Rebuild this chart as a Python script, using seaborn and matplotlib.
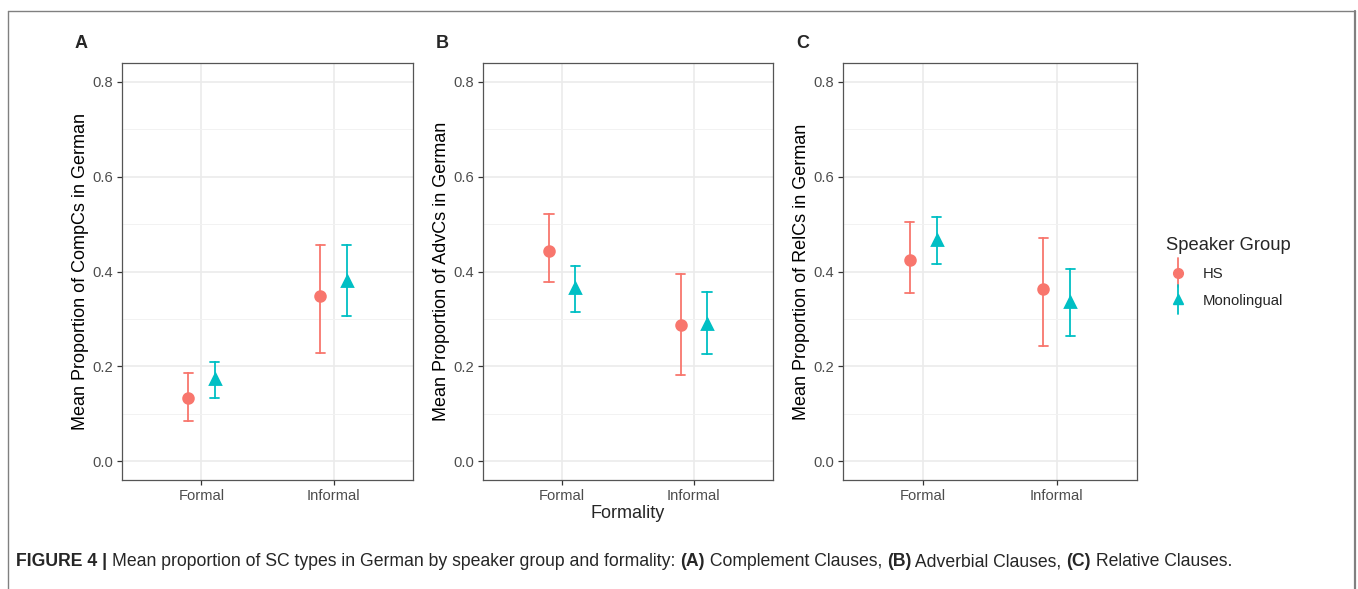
import numpy as np
import pandas as pd
import seaborn as sns
import matplotlib
matplotlib.use("Agg")
import matplotlib.pyplot as plt
from matplotlib.lines import Line2D
from matplotlib.legend_handler import HandlerBase

# ---------------- data ----------------
formality = ["Formal", "Informal"]
groups = ["HS", "Monolingual"]
panel_letters = ["A", "B", "C"]
ylabels = ["Mean Proportion of CompCs in German",
           "Mean Proportion of AdvCs in German",
           "Mean Proportion of RelCs in German"]
# order: HS-Formal, HS-Informal, Mono-Formal, Mono-Informal
comp_mean = [0.132, 0.349, 0.174, 0.379]
comp_lo   = [0.084, 0.227, 0.132, 0.306]
comp_hi   = [0.185, 0.456, 0.208, 0.455]
adv_mean  = [0.443, 0.288, 0.366, 0.290]
adv_lo    = [0.378, 0.182, 0.314, 0.225]
adv_hi    = [0.521, 0.395, 0.412, 0.356]
rel_mean  = [0.425, 0.364, 0.466, 0.335]
rel_lo    = [0.354, 0.243, 0.415, 0.263]
rel_hi    = [0.504, 0.471, 0.516, 0.405]
yticks = [0.0, 0.2, 0.4, 0.6, 0.8]
palette = {"HS": "#F8766D", "Monolingual": "#00BFC4"}

def make_df(mean, lo, hi):
    rows = []
    i = 0
    for g in groups:
        for f in formality:
            for v in (lo[i], mean[i], hi[i]):
                rows.append({"Formality": f, "Speaker Group": g, "value": v})
            i += 1
    return pd.DataFrame(rows)

dfs = [make_df(comp_mean, comp_lo, comp_hi),
       make_df(adv_mean, adv_lo, adv_hi),
       make_df(rel_mean, rel_lo, rel_hi)]

# ---------------- figure ----------------
sns.set_theme(style="white")
plt.rcParams["font.family"] = ["Liberation Sans", "DejaVu Sans"]
W, H = 1358, 589
fig = plt.figure(figsize=(W / 100, H / 100), dpi=100)

lefts = [122, 483, 843]
rights = [413, 773, 1137]
top_px, bot_px = 63, 480

for k in range(3):
    ax = fig.add_axes([lefts[k] / W, 1 - bot_px / H,
                       (rights[k] - lefts[k]) / W, (bot_px - top_px) / H])
    ax.set_axisbelow(True)
    sns.pointplot(data=dfs[k], x="Formality", y="value", hue="Speaker Group",
                  order=formality, hue_order=groups, palette=palette,
                  estimator="median", errorbar=lambda v: (np.min(v), np.max(v)),
                  markers=["o", "^"], linestyles="none", dodge=0.2,
                  capsize=0.07, err_kws={"linewidth": 1.3},
                  markersize=7, legend=False, ax=ax)
    ax.set_ylim(-0.04, 0.84)
    ax.set_xlim(-0.6, 1.6)
    ax.set_yticks(yticks)
    ax.set_yticklabels([f"{t:.1f}" for t in yticks])
    ax.set_yticks([0.1, 0.3, 0.5, 0.7], minor=True)
    ax.grid(True, which="major", color="#EBEBEB", linewidth=1.2)
    ax.grid(True, which="minor", axis="y", color="#F2F2F2", linewidth=0.7)
    for s in ax.spines.values():
        s.set_color("#555555")
        s.set_linewidth(0.9)
    ax.tick_params(axis="both", which="major", length=3.5, width=0.9,
                   color="#333333", labelcolor="#4D4D4D", labelsize=10.6, pad=3,
                   left=True, bottom=True)
    ax.tick_params(axis="y", which="minor", length=0)
    ax.set_xlabel("")
    ax.set_ylabel(ylabels[k], fontsize=13, color="black", labelpad=2)
    fig.text((lefts[k] - 47) / W, 1 - 43 / H, panel_letters[k],
             fontsize=13, fontweight="bold", ha="left", va="center")

fig.text(628 / W, 1 - 514 / H, "Formality", fontsize=13, ha="center", va="center")

# legend with point-range keys
class PointRange:
    def __init__(self, color, marker):
        self.color = color
        self.marker = marker

class HandlerPointRange(HandlerBase):
    def create_artists(self, legend, orig_handle, xdescent, ydescent, width, height,
                       fontsize, trans):
        cx = width / 2 - xdescent
        cy = height / 2 - ydescent
        line = Line2D([cx, cx], [cy - 10.5, cy + 10.5], color=orig_handle.color,
                      lw=1.3, transform=trans)
        mk = Line2D([cx], [cy], marker=orig_handle.marker, color=orig_handle.color,
                    markersize=7, linestyle="none", transform=trans)
        return [line, mk]

handles = [PointRange(palette[g], m) for g, m in zip(groups, ["o", "^"])]
leg = fig.legend(handles, groups, title="Speaker Group",
                 handler_map={PointRange: HandlerPointRange()},
                 loc="upper left", bbox_to_anchor=(1153 / W, 1 - 224 / H),
                 frameon=False, fontsize=10.7, title_fontsize=13.2,
                 handlelength=1.6, handletextpad=0.85, labelspacing=0.85)
leg._legend_box.align = "left"

# outer frame (open at bottom)
fc = "#808080"
fig.add_artist(Line2D([8 / W, 8 / W], [0, 1 - 11 / H], color=fc, lw=1.0,
                      transform=fig.transFigure))
fig.add_artist(Line2D([8 / W, 1355 / W], [1 - 11 / H, 1 - 11 / H], color=fc, lw=1.0,
                      transform=fig.transFigure))
fig.add_artist(Line2D([1355 / W, 1355 / W], [0, 1 - 11 / H], color=fc, lw=1.6,
                      transform=fig.transFigure))

# caption with mixed bold/regular pieces
pieces = [("FIGURE 4 | ", "bold"),
          ("Mean proportion of SC types in German by speaker group and formality: ", "normal"),
          ("(A)", "bold"), (" Complement Clauses, ", "normal"),
          ("(B)", "bold"), (" Adverbial Clauses, ", "normal"),
          ("(C)", "bold"), (" Relative Clauses.", "normal")]
cap_fam = ["Liberation Sans", "DejaVu Sans"]
target_w = 1240 - 16
cap_y = 1 - 562 / H

def draw_caption(fs):
    renderer = fig.canvas.get_renderer()
    x = 16
    texts = []
    for s, wgt in pieces:
        t = fig.text(x / W, cap_y, s, fontsize=fs, fontweight=wgt, family=cap_fam,
                     ha="left", va="center")
        bb = t.get_window_extent(renderer)
        x += bb.width
        texts.append(t)
    return texts, x - 16

texts, w = draw_caption(12)
for t in texts:
    t.remove()
fs = 12 * target_w / w
draw_caption(fs)

fig.savefig("out.png", dpi=100)
